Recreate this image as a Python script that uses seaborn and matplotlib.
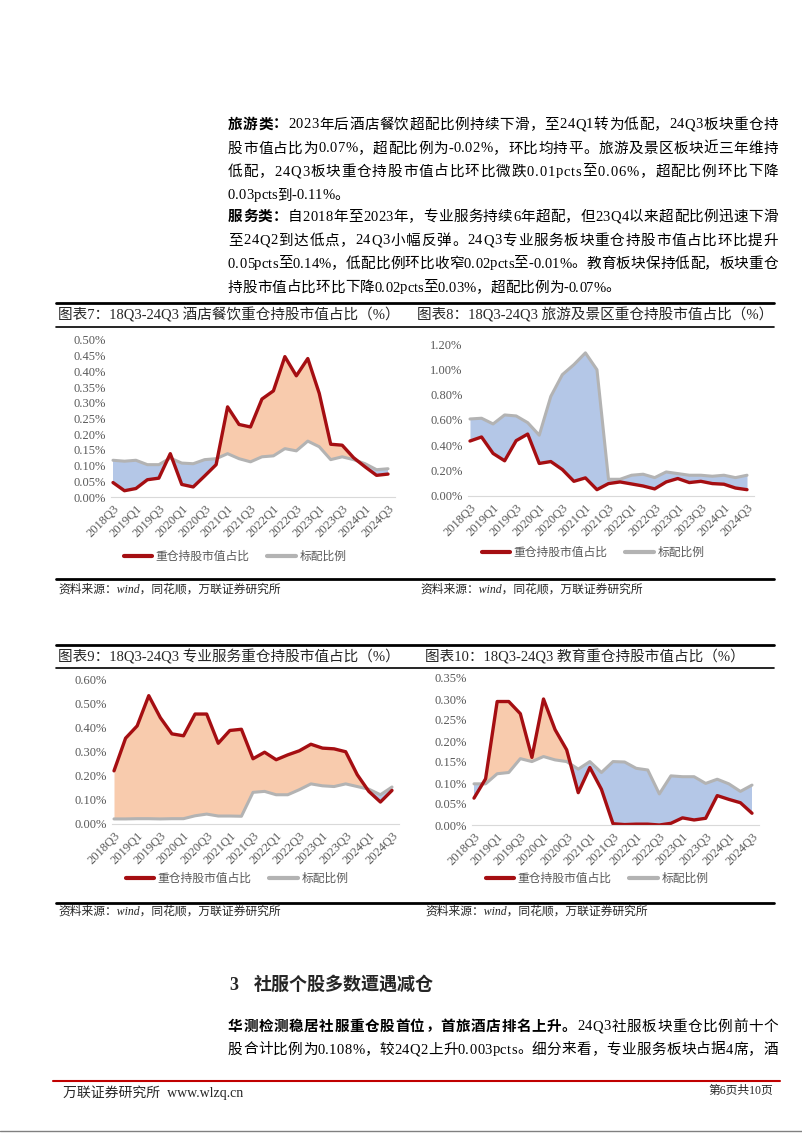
import numpy as np
import pandas as pd
import seaborn as sns
import matplotlib.pyplot as plt
from matplotlib.lines import Line2D
from matplotlib.ticker import MultipleLocator, FuncFormatter

sns.set_theme(style='white')
FAM = ['Liberation Serif', 'Noto Sans CJK SC']
plt.rcParams['font.family'] = FAM

W, H = 802, 1133

quarters = ['2018Q3', '2018Q4', '2019Q1', '2019Q2', '2019Q3', '2019Q4', '2020Q1', '2020Q2',
            '2020Q3', '2020Q4', '2021Q1', '2021Q2', '2021Q3', '2021Q4', '2022Q1', '2022Q2',
            '2022Q3', '2022Q4', '2023Q1', '2023Q2', '2023Q3', '2023Q4', '2024Q1', '2024Q2', '2024Q3']

# 酒店餐饮
hotel_heavy = [0.046, 0.020, 0.027, 0.055, 0.060, 0.138, 0.040, 0.032, 0.067, 0.103, 0.287, 0.231, 0.223,
               0.312, 0.338, 0.447, 0.386, 0.441, 0.330, 0.168, 0.165, 0.125, 0.096, 0.069, 0.073]
hotel_bench = [0.117, 0.114, 0.117, 0.103, 0.103, 0.124, 0.108, 0.106, 0.119, 0.122, 0.138, 0.122, 0.112,
               0.128, 0.131, 0.154, 0.147, 0.178, 0.160, 0.119, 0.128, 0.119, 0.106, 0.087, 0.090]
# 旅游及景区
tour_heavy = [0.434, 0.466, 0.336, 0.278, 0.437, 0.489, 0.257, 0.272, 0.209, 0.116, 0.143, 0.050, 0.098,
              0.111, 0.095, 0.079, 0.056, 0.111, 0.138, 0.106, 0.116, 0.098, 0.093, 0.063, 0.050]
tour_bench = [0.608, 0.614, 0.569, 0.640, 0.632, 0.579, 0.480, 0.786, 0.958, 1.037, 1.130, 0.997, 0.132,
              0.132, 0.164, 0.172, 0.145, 0.190, 0.177, 0.164, 0.164, 0.156, 0.164, 0.145, 0.164]
# 专业服务
prof_heavy = [0.220, 0.355, 0.406, 0.531, 0.440, 0.373, 0.365, 0.455, 0.455, 0.334, 0.387, 0.392, 0.270,
              0.297, 0.266, 0.286, 0.303, 0.330, 0.314, 0.311, 0.299, 0.204, 0.135, 0.091, 0.139]
prof_bench = [0.021, 0.021, 0.022, 0.022, 0.021, 0.022, 0.022, 0.034, 0.041, 0.033, 0.033, 0.032, 0.131,
              0.135, 0.121, 0.121, 0.142, 0.166, 0.158, 0.155, 0.166, 0.155, 0.144, 0.121, 0.153]
# 教育
edu_heavy = [0.064, 0.110, 0.294, 0.294, 0.265, 0.161, 0.300, 0.227, 0.179, 0.077, 0.137, 0.085, 0.003,
             0.001, 0.002, 0.002, 0.000, 0.004, 0.017, 0.012, 0.016, 0.070, 0.061, 0.053, 0.028]
edu_bench = [0.098, 0.098, 0.122, 0.125, 0.158, 0.151, 0.163, 0.155, 0.151, 0.133, 0.151, 0.125, 0.151,
             0.150, 0.135, 0.131, 0.074, 0.117, 0.115, 0.115, 0.099, 0.109, 0.098, 0.080, 0.095]

RED = '#A50E12'
GRAY = '#B3B3B3'
ORANGE = '#F8CBAD'
BLUE = '#B4C7E7'
TXT = '#595959'

fig = plt.figure(figsize=(W / 100, H / 100), dpi=100)
renderer = fig.canvas.get_renderer()


def fy(y):
    return 1 - y / H


def put_line(x, y, parts, size=10.5, right=None):
    # draw char by char so a full line can be justified to the right margin
    items = []
    for s, bold in parts:
        for ch in s:
            t = fig.text(0, fy(y), ch, fontsize=size, fontweight='bold' if bold else 'normal',
                         family=FAM, va='center', color='black')
            items.append((t, t.get_window_extent(renderer).width))
    total = sum(w for _, w in items)
    gap = 0 if right is None else (right - x - total) / (len(items) - 1)
    cur = x
    for t, w in items:
        t.set_x(cur / W)
        cur += w + gap


def hline(x1, x2, y, lw, color='black'):
    fig.add_artist(Line2D([x1 / W, x2 / W], [fy(y), fy(y)], color=color, lw=lw))


def draw_chart(px, heavy, bench, ymax, ystep, legend_xy):
    x0, x24, y0, ytop = px
    ppu = (x24 - x0) / 24
    left, right = x0 - 0.15 * ppu, x24 + 0.6 * ppu
    ax = fig.add_axes([left / W, fy(y0), (right - left) / W, (y0 - ytop) / H])
    df = pd.DataFrame({'q': np.arange(len(quarters)), 'heavy': heavy, 'bench': bench})
    h, b = np.array(heavy), np.array(bench)
    ax.fill_between(df['q'], h, b, where=h >= b, interpolate=True, color=ORANGE, lw=0)
    ax.fill_between(df['q'], h, b, where=h <= b, interpolate=True, color=BLUE, lw=0)
    sns.lineplot(data=df, x='q', y='bench', color=GRAY, lw=2.2, ax=ax)
    sns.lineplot(data=df, x='q', y='heavy', color=RED, lw=2.4, ax=ax)
    ax.set_xlim(-0.15, 24.6)
    ax.set_ylim(0, ymax)
    ax.yaxis.set_major_locator(MultipleLocator(ystep))
    ax.yaxis.set_major_formatter(FuncFormatter(lambda v, p: f'{v:.2f}%'))
    ax.set_xticks(df['q'][::2])
    ax.set_xticklabels(quarters[::2], rotation=45, ha='right', va='top', rotation_mode='anchor')
    ax.tick_params(length=0, labelsize=9, labelcolor=TXT, pad=4)
    ax.set_xlabel('')
    ax.set_ylabel('')
    for s in ['top', 'right', 'left']:
        ax.spines[s].set_visible(False)
    ax.spines['bottom'].set_color('#D9D9D9')
    ax.spines['bottom'].set_linewidth(0.8)
    ax.patch.set_alpha(0)
    handles = [Line2D([], [], color=RED, lw=3), Line2D([], [], color=GRAY, lw=3)]
    fig.legend(handles, ['重仓持股市值占比', '标配比例'], loc='center',
               bbox_to_anchor=(legend_xy[0] / W, fy(legend_xy[1])), ncol=2, frameon=False,
               prop={'family': FAM, 'size': 8.5}, labelcolor=TXT, handlelength=2.4,
               columnspacing=1.5, handletextpad=0.3)
    return ax


# body text, top
put_line(228, 125, [('旅游类：', True), ('2023年后酒店餐饮超配比例持续下滑，至24Q1转为低配，24Q3板块重仓持', False)], right=778)
put_line(228, 149, [('股市值占比为0.07%，超配比例为-0.02%，环比均持平。旅游及景区板块近三年维持', False)], right=778)
put_line(228, 172, [('低配，24Q3板块重仓持股市值占比环比微跌0.01pcts至0.06%，超配比例环比下降', False)], right=778)
put_line(228, 196, [('0.03pcts到-0.11%。', False)])
put_line(228, 217, [('服务类：', True), ('自2018年至2023年，专业服务持续6年超配，但23Q4以来超配比例迅速下滑', False)], right=778)
put_line(228, 241, [('至24Q2到达低点，24Q3小幅反弹。24Q3专业服务板块重仓持股市值占比环比提升', False)], right=778)
put_line(228, 264, [('0.05pcts至0.14%，低配比例环比收窄0.02pcts至-0.01%。教育板块保持低配，板块重仓', False)], right=778)
put_line(228, 288, [('持股市值占比环比下降0.02pcts至0.03%，超配比例为-0.07%。', False)])

# chart frames
for top, bot, src in [(303, 327, 579), (645, 668, 903)]:
    hline(56, 774, top, 2.0)
    hline(56, 774, bot, 1.2)
    hline(56, 774, src, 2.0)

fig.text(58 / W, fy(315), '图表7：18Q3-24Q3 酒店餐饮重仓持股市值占比（%）', fontsize=10.5, va='center')
fig.text(417 / W, fy(315), '图表8：18Q3-24Q3 旅游及景区重仓持股市值占比（%）', fontsize=10.5, va='center')
fig.text(58 / W, fy(657), '图表9：18Q3-24Q3 专业服务重仓持股市值占比（%）', fontsize=10.5, va='center')
fig.text(425 / W, fy(657), '图表10：18Q3-24Q3 教育重仓持股市值占比（%）', fontsize=10.5, va='center')

src_text = '资料来源：wind，同花顺，万联证券研究所'
for x, y in [(58, 590), (420, 590), (58, 912), (425, 912)]:
    fig.text(x / W, fy(y), src_text, fontsize=8.5, style='italic', va='center')

draw_chart((113, 388, 497, 340), hotel_heavy, hotel_bench, 0.50, 0.05, (235, 557))
draw_chart((470, 747, 496, 344), tour_heavy, tour_bench, 1.20, 0.20, (593, 553))
draw_chart((114, 392, 824, 679), prof_heavy, prof_bench, 0.60, 0.10, (237, 879))
draw_chart((474, 752, 825, 678), edu_heavy, edu_bench, 0.35, 0.05, (597, 879))

# section 3
fig.text(229 / W, fy(985), '3', fontsize=13, fontweight='bold', va='center')
fig.text(254 / W, fy(985), '社服个股多数遭遇减仓', fontsize=13, fontweight='bold', va='center')
put_line(228, 1027, [('华测检测稳居社服重仓股首位，首旅酒店排名上升。', True), ('24Q3社服板块重仓比例前十个', False)], right=778)
put_line(228, 1050, [('股合计比例为0.108%，较24Q2上升0.003pcts。细分来看，专业服务板块占据4席，酒', False)], right=778)

# footer
hline(53, 780, 1081, 1.5, color='#C00000')
fig.text(63 / W, fy(1093), '万联证券研究所  www.wlzq.cn', fontsize=10, va='center')
fig.text(773 / W, fy(1091), '第6页共10页', fontsize=8.5, va='center', ha='right')
hline(0, 802, 1131, 1.0, color='#808080')

fig.savefig('out.png', dpi=100, facecolor='white')
